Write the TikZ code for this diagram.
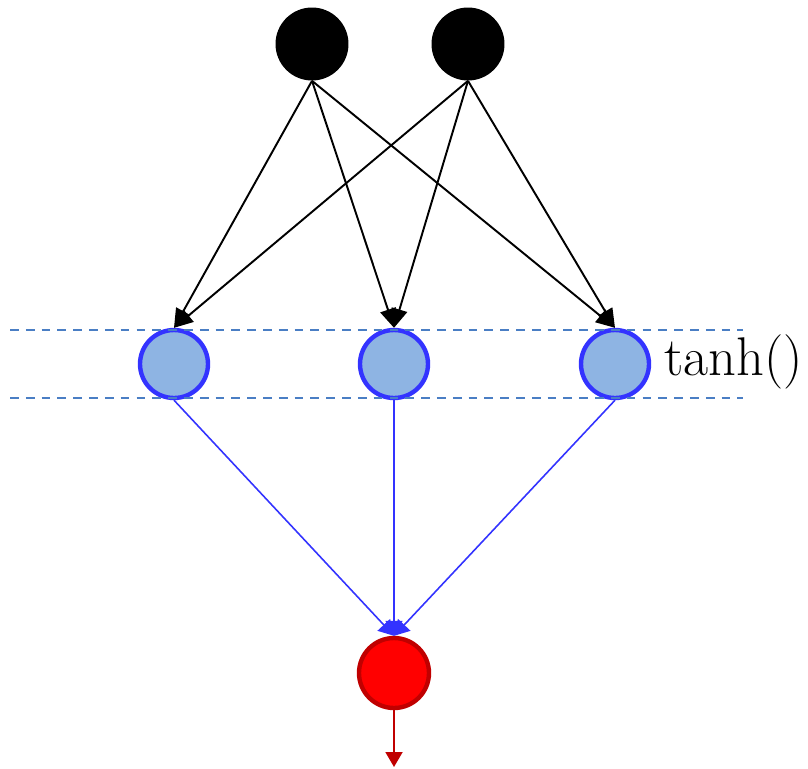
\documentclass[tikz,border=0pt]{standalone}
\usetikzlibrary{arrows.meta}
\definecolor{hidfill}{HTML}{8EB4E3}
\definecolor{hidline}{HTML}{3333FF}
\definecolor{outline}{HTML}{C00000}
\definecolor{dashline}{HTML}{4A7EC4}
\tikzset{
  inunit/.style={circle, fill=black, minimum size=1.46cm, inner sep=0pt},
  hidunit/.style={circle, fill=hidfill, draw=hidline, line width=2.5pt, minimum size=1.36cm, inner sep=0pt},
  outunit/.style={circle, fill=red, draw=outline, line width=2.5pt, minimum size=1.4cm, inner sep=0pt},
}
\begin{document}
\begin{tikzpicture}[x=0.02cm, y=-0.02cm]
  \useasboundingbox (0,0) rectangle (808,768);
  % Input layer
  \node[inunit] (in1) at (312,44) {};
  \node[inunit] (in2) at (468,44) {};
  % Hidden layer
  \node[hidunit] (h1) at (174,364) {};
  \node[hidunit] (h2) at (394,364) {};
  \node[hidunit] (h3) at (615,364) {};
  \node[font=\fontsize{31}{34}\selectfont, anchor=west, inner sep=0pt] (act) at (664,362) {tanh()};
  % Layer band
  \draw[dashline, dashed, line width=0.8pt, dash pattern=on 5pt off 4pt] (10,330) -- (743,330);
  \draw[dashline, dashed, line width=0.8pt, dash pattern=on 5pt off 4pt] (10,398) -- (743,398);
  % Output unit
  \node[outunit] (out) at (394,673) {};
  \coordinate (end) at (394,767);
  % Input to hidden
  \foreach \i in {in1,in2}
    \foreach \h in {h1,h2,h3}
      \draw[-{Triangle[length=0.38cm, width=0.32cm]}, line width=1.1pt] (\i.south) -- (\h.north);
  % Hidden to output
  \foreach \h in {h1,h2,h3}
    \draw[hidline, -{Triangle[length=0.3cm, width=0.34cm]}, line width=0.9pt] (\h.south) -- (out.north);
  % Output arrow
  \draw[outline, -{Triangle[length=0.3cm, width=0.34cm]}, line width=1.1pt] (out.south) -- (end);
\end{tikzpicture}
\end{document}
